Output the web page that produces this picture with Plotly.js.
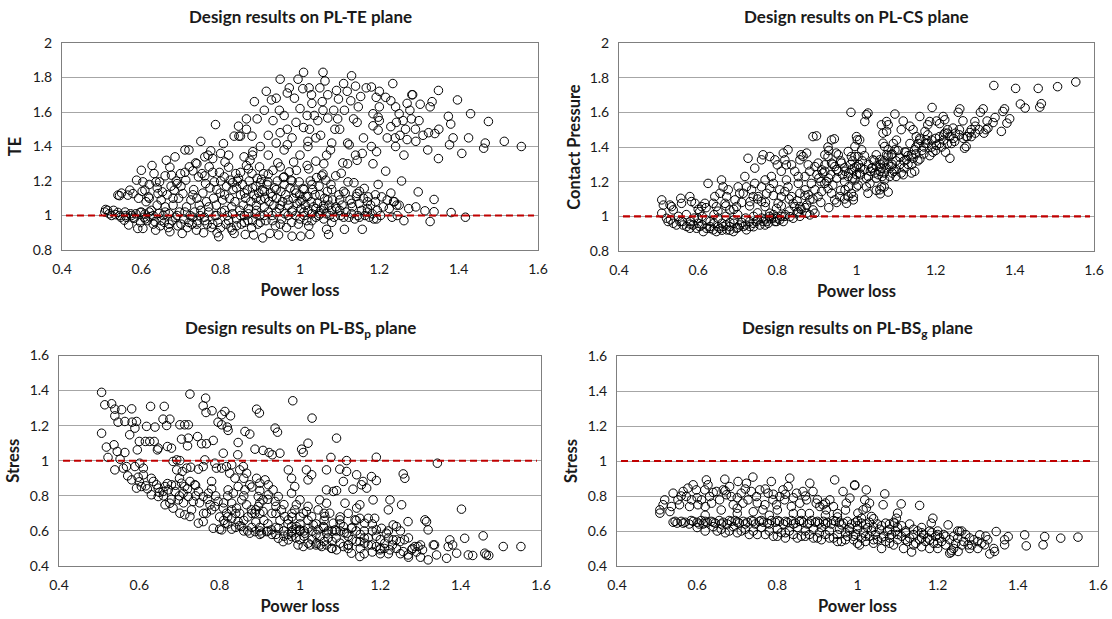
<!DOCTYPE html>
<html><head><meta charset="utf-8">
<script src="https://cdn.plot.ly/plotly-3.0.1.min.js"></script>
<style>html,body{margin:0;padding:0;background:#fff}#chart{width:1112px;height:619px}</style>
</head><body><div id="chart"></div>
<script>
const panelTitles = ["Design results on PL-TE plane", "Design results on PL-CS plane",
  "Design results on PL-BS<sub>p</sub> plane", "Design results on PL-BS<sub>g</sub> plane"];
const yTitles = ["TE", "Contact Pressure", "Stress", "Stress"];
const xTitle = "Power loss";
const xTicks = [0.4, 0.6, 0.8, 1, 1.2, 1.4, 1.6];
const yRangeTop = [0.8, 2];
const yRangeBottom = [0.4, 1.6];
const limitX = [0.41, 1.59];
const limitY = [1, 1];

// PL-TE plane: [power loss, TE]
const tePoints = [
[0.508,1.02],[0.51,1.035],[0.515,1.03],[0.519,1.01],[0.525,1.0],[0.53,1.03],[0.535,1.005],[0.541,1.018],[0.541,1.118],[0.546,1.0],[0.548,0.99],[0.55,1.13],[0.545,1.115],
[0.557,0.973],[0.559,1.02],[0.562,0.99],[0.566,1.118],[0.568,0.945],[0.571,1.147],[0.573,1.01],[0.575,1.0],[0.579,1.127],[0.582,0.983],[0.586,1.01],[0.588,1.205],[0.591,0.925],[0.593,1.1],[0.597,1.018],[0.598,0.96],[0.6,1.262],
[0.602,1.14],[0.604,1.195],[0.604,0.925],[0.607,0.99],[0.609,1.147],[0.609,1.008],[0.612,1.08],[0.615,0.97],[0.618,1.108],[0.62,1.1],[0.622,0.993],[0.625,1.03],[0.627,1.29],[0.63,0.95],[0.632,1.243],[0.634,0.964],[0.636,0.915],[0.637,1.195],[0.64,1.06],[0.642,1.127],[0.645,1.012],[0.646,1.195],[0.648,0.94],[0.65,1.09],
[0.653,1.137],[0.655,1.0],[0.658,0.96],[0.66,1.05],[0.663,1.32],[0.665,1.12],[0.668,0.93],[0.67,1.01],[0.672,1.28],[0.672,0.906],[0.675,1.17],[0.676,1.234],[0.678,0.97],[0.68,1.06],[0.683,1.147],[0.685,1.34],[0.686,0.99],[0.688,1.2],[0.69,1.185],[0.692,0.94],[0.694,1.1],[0.696,1.02],[0.699,1.243],
[0.703,0.896],[0.705,1.127],[0.707,0.98],[0.71,1.38],[0.712,1.205],[0.714,1.05],[0.716,0.93],[0.72,1.38],[0.721,1.282],[0.723,1.0],[0.725,1.09],[0.728,0.95],[0.73,1.259],[0.732,1.15],[0.734,1.02],[0.737,1.305],[0.739,0.915],[0.74,1.1],[0.742,0.97],[0.744,1.224],[0.746,1.06],[0.748,1.0],[0.75,1.43],
[0.753,1.243],[0.755,1.13],[0.757,0.9],[0.759,0.99],[0.76,1.34],[0.762,1.185],[0.764,1.08],[0.766,0.95],[0.768,1.35],[0.77,1.02],[0.771,1.282],[0.773,1.16],[0.775,1.375],[0.777,0.93],[0.78,1.33],[0.782,1.1],[0.784,1.195],[0.786,1.0],[0.787,1.527],[0.789,1.06],[0.791,0.9],[0.793,0.96],[0.795,0.877],[0.797,1.25],[0.799,1.13],
[0.8,1.36],[0.802,1.02],[0.805,1.09],[0.807,1.417],[0.809,1.224],[0.811,1.31],[0.813,0.95],[0.815,1.17],[0.817,1.0],[0.82,1.35],[0.822,1.1],[0.824,1.205],[0.826,0.93],[0.828,1.05],[0.829,0.915],[0.831,1.15],[0.834,0.896],[0.834,1.46],[0.836,1.08],[0.838,1.243],[0.84,0.98],[0.842,1.2],[0.845,1.518],[0.845,1.215],[0.846,1.46],[0.848,1.03],[0.85,1.46],[0.85,1.12],
[0.852,0.95],[0.855,1.18],[0.857,1.06],[0.859,1.34],[0.86,1.0],[0.862,0.89],[0.863,1.1],[0.865,1.56],[0.865,1.5],[0.865,1.29],[0.867,1.15],[0.869,0.97],[0.87,1.04],[0.872,1.2],[0.874,1.32],[0.876,1.08],[0.878,0.93],[0.879,1.243],[0.879,1.46],[0.881,1.37],[0.883,0.887],[0.884,1.12],[0.885,1.66],[0.887,1.01],[0.889,1.17],[0.89,1.06],[0.892,1.56],[0.892,1.215],[0.894,0.95],[0.896,1.13],[0.898,1.282],[0.899,1.0],
[0.901,1.09],[0.903,1.21],[0.905,1.15],[0.906,0.87],[0.908,1.243],[0.91,1.61],[0.91,1.05],[0.912,1.1],[0.914,0.97],[0.915,1.72],[0.917,1.18],[0.919,1.195],[0.92,1.465],[0.92,1.02],[0.922,1.08],[0.924,0.896],[0.926,1.13],[0.928,1.67],[0.93,1.0],[0.932,1.262],[0.932,1.55],[0.934,1.06],[0.936,1.16],[0.938,0.94],[0.94,1.68],[0.941,1.1],[0.943,1.2],[0.944,1.305],[0.946,0.887],[0.948,1.61],[0.948,1.04],[0.95,1.79],[0.95,1.282],
[0.952,1.14],[0.954,0.98],[0.956,1.08],[0.958,1.22],[0.96,1.58],[0.96,1.224],[0.962,1.01],[0.964,1.12],[0.966,0.93],[0.968,1.71],[0.968,1.5],[0.968,1.41],[0.97,1.06],[0.973,1.74],[0.973,1.253],[0.975,1.16],[0.977,1.205],[0.979,0.96],[0.98,0.88],[0.981,1.03],[0.983,1.1],[0.984,1.31],[0.986,1.68],[0.987,1.147],[0.989,1.0],[0.99,1.54],[0.991,1.262],[0.993,1.07],[0.995,1.79],[0.996,0.95],[0.998,1.195],[0.999,1.12],
[1.002,0.88],[1.003,1.04],[1.005,1.09],[1.007,1.735],[1.008,1.157],[1.009,1.83],[1.009,1.51],[1.011,1.0],[1.013,1.06],[1.015,1.11],[1.017,0.97],[1.018,1.58],[1.018,1.29],[1.02,1.43],[1.02,1.03],[1.022,1.27],[1.022,0.94],[1.023,1.74],[1.024,1.5],[1.025,0.89],[1.026,1.2],[1.028,1.08],[1.029,1.7],[1.03,1.01],[1.032,1.15],[1.034,1.05],[1.036,1.58],[1.038,1.12],[1.04,1.315],[1.04,0.99],[1.042,1.22],[1.044,1.07],[1.045,1.55],[1.047,1.0],[1.048,1.17],[1.05,1.74],
[1.052,1.465],[1.053,1.03],[1.055,1.23],[1.056,1.66],[1.058,1.83],[1.058,1.61],[1.058,1.24],[1.06,0.98],[1.062,1.1],[1.063,1.78],[1.065,1.205],[1.066,1.01],[1.067,1.35],[1.067,0.92],[1.069,1.14],[1.07,1.565],[1.072,0.89],[1.073,1.06],[1.075,1.0],[1.077,1.38],[1.078,1.18],[1.08,1.03],[1.082,1.09],[1.085,1.61],[1.086,0.99],[1.088,1.5],[1.09,1.23],[1.092,1.725],[1.093,1.04],[1.095,1.56],[1.097,1.675],[1.098,1.12],
[1.102,1.0],[1.104,1.245],[1.106,1.06],[1.108,1.305],[1.11,1.765],[1.112,1.61],[1.112,0.92],[1.114,1.13],[1.116,1.02],[1.119,1.72],[1.12,1.42],[1.121,1.195],[1.123,0.99],[1.124,1.41],[1.126,1.09],[1.128,1.665],[1.13,1.81],[1.132,1.05],[1.135,1.56],[1.136,1.19],[1.138,0.98],[1.14,1.35],[1.142,1.11],[1.144,1.54],[1.144,1.32],[1.144,1.128],[1.146,1.0],[1.147,1.63],[1.149,1.07],
[1.153,1.69],[1.155,1.03],[1.157,1.36],[1.157,0.92],[1.16,1.1],[1.162,1.157],[1.164,1.0],[1.167,1.74],[1.17,1.04],[1.172,1.108],[1.175,0.99],[1.178,1.06],[1.18,1.745],[1.182,1.01],[1.184,1.59],[1.184,1.52],[1.184,1.3],[1.186,0.98],[1.19,1.08],[1.192,1.685],[1.193,1.37],[1.193,0.98],[1.195,1.03],[1.197,1.57],[1.197,1.495],[1.197,1.18],
[1.2,1.63],[1.203,1.0],[1.206,1.108],[1.21,1.05],[1.216,1.685],[1.216,1.257],[1.22,1.45],[1.225,1.04],[1.229,1.665],[1.229,1.515],[1.229,1.13],[1.232,0.99],[1.234,1.765],[1.236,1.08],[1.238,1.08],[1.241,1.63],[1.241,1.4],[1.243,1.54],[1.244,1.06],[1.245,1.0],[1.25,1.59],
[1.252,1.465],[1.256,1.2],[1.262,1.35],[1.262,0.97],[1.266,1.5],[1.27,1.44],[1.274,1.04],[1.277,1.61],[1.281,1.56],[1.282,1.7],[1.284,1.7],[1.291,1.5],[1.292,1.43],[1.292,1.05],[1.298,1.137],
[1.303,1.645],[1.31,1.465],[1.315,1.027],[1.322,1.38],[1.324,1.48],[1.328,1.63],[1.328,0.965],[1.333,1.66],[1.338,1.093],[1.338,1.022],[1.34,1.475],[1.349,1.725],[1.349,1.33],[1.374,1.575],[1.377,1.41],[1.38,1.53],[1.381,1.017],[1.386,1.45],[1.397,1.67],[1.408,1.36],[1.417,0.99],[1.425,1.45],[1.43,1.59],[1.463,1.39],[1.467,1.42],[1.475,1.545],[1.515,1.43],[1.558,1.4],
[0.56,1.0],[0.58,0.99],[0.6,1.02],[0.61,0.98],[0.62,1.02],[0.63,1.0],[0.65,0.97],[0.66,1.02],[0.67,0.95],[0.69,1.0],[0.7,0.95],[0.71,1.02],[0.72,0.96],[0.73,0.99],[0.74,0.95],[0.75,1.03],[0.76,0.97],[0.78,0.95],[0.79,1.0],[0.8,0.93],[0.81,1.03],[0.82,0.97],[0.83,1.01],[0.84,0.94],[0.85,1.0],[0.86,0.96],[0.87,1.01],[0.88,0.97],[0.89,1.03],[0.9,0.96],[0.91,1.0],[0.93,0.97],[0.94,1.02],[0.95,0.95],[0.97,1.0],[0.98,1.02],[1.0,0.98],[1.01,1.02],[1.03,0.97],[1.05,1.01],[1.06,1.04],[1.08,0.96],[1.1,1.03],[1.11,0.99],[1.13,1.01],[1.15,0.99],[1.17,1.02],
[0.62,1.18],[0.64,1.16],[0.66,1.23],[0.68,1.1],[0.7,1.17],[0.71,1.25],[0.73,1.12],[0.74,1.3],[0.76,1.23],[0.77,1.05],[0.78,1.25],[0.79,1.15],[0.8,1.2],[0.81,1.12],[0.82,1.28],[0.83,1.19],[0.84,1.16],[0.85,1.25],[0.86,1.13],[0.87,1.27],[0.88,1.16],[0.89,1.1],[0.9,1.19],[0.91,1.14],[0.92,1.24],[0.93,1.11],[0.94,1.15],[0.95,1.06],[0.96,1.18],[0.97,1.09],[0.98,1.2],[0.99,1.13],[1.0,1.08],[1.01,1.15],[1.02,1.11],[1.03,1.18],[1.04,1.04],[1.05,1.12],[1.06,1.06],[1.07,1.09],[1.08,1.15],[1.09,1.05],[1.1,1.09],[1.11,1.14],[1.13,1.07],[1.15,1.14],[1.17,1.08],[1.19,1.12],[1.22,1.09],[1.25,1.06],
[0.88,1.35],[0.9,1.4],[0.92,1.35],[0.94,1.42],[0.96,1.38],[0.98,1.45],[1.0,1.35],[1.02,1.4],[1.04,1.45],[1.06,1.3],[1.08,1.42],[1.1,1.5],[1.12,1.3],[1.16,1.45],[1.18,1.4],[1.2,1.55],[1.24,1.45],[1.26,1.55],[1.3,1.55],[1.35,1.5],[0.95,1.48],[1.0,1.62],[1.03,1.65],[1.07,1.7],[1.14,1.75],[1.2,1.72],[1.27,1.65]
];

// PL-CS plane: [power loss, contact pressure]
const csPoints = [
[0.508,1.095],[0.508,1.018],[0.512,1.065],[0.52,0.989],[0.524,0.97],[0.529,1.065],[0.533,1.056],[0.537,1.037],[0.537,0.96],[0.545,0.95],[0.55,1.0],[0.554,0.97],[0.556,1.104],[0.558,1.075],[0.562,0.95],[0.57,1.01],[0.571,0.941],[0.579,0.931],[0.579,1.114],[0.58,0.97],[0.583,1.085],[0.587,0.95],[0.59,0.99],[0.592,1.075],[0.596,0.931],[0.6,0.96],[0.604,0.941],[0.604,1.027],[0.609,1.056],[0.61,1.0],[0.613,0.912],[0.617,1.075],[0.62,0.98],[0.621,0.931],[0.625,1.19],[0.63,0.941],[0.63,0.97],[0.638,0.922],[0.638,1.075],[0.64,1.01],[0.642,1.114],[0.646,0.912],[0.646,1.056],[0.65,0.99],[0.655,0.931],[0.655,1.133],[0.659,1.21],[0.66,0.96],[0.663,0.941],[0.663,1.17],[0.668,1.075],[0.67,1.0],[0.672,0.922],[0.672,1.114],[0.676,1.153],[0.68,0.941],[0.68,0.965],[0.68,1.037],[0.689,0.912],[0.69,0.98],[0.693,1.095],[0.697,0.931],[0.697,1.056],[0.7,1.01],[0.701,1.17],[0.705,0.95],[0.705,1.133],[0.714,0.941],[0.714,1.133],[0.718,1.23],[0.72,0.99],[0.722,0.922],[0.722,1.17],[0.726,1.335],[0.731,0.941],[0.731,1.085],[0.735,1.153],[0.739,0.96],[0.739,1.114],[0.74,1.0],[0.743,1.19],[0.743,1.278],[0.747,0.97],[0.75,1.02],[0.752,1.114],[0.756,0.95],[0.76,0.99],[0.76,1.17],[0.76,1.085],[0.76,1.326],[0.764,0.97],[0.764,1.355],[0.769,1.21],[0.769,1.056],[0.769,0.95],[0.773,0.97],[0.773,1.133],[0.777,0.96],[0.78,1.0],[0.781,1.345],[0.781,1.16],[0.781,1.018],[0.785,1.23],[0.785,0.989],[0.79,1.19],[0.79,1.01],[0.794,1.326],[0.794,0.97],[0.798,0.97],[0.798,1.046],[0.8,1.297],[0.8,0.99],[0.802,1.075],[0.806,1.153],[0.806,0.979],[0.81,1.26],[0.81,1.114],[0.815,0.97],[0.815,1.365],[0.819,1.326],[0.819,1.143],[0.819,1.0],[0.82,1.01],[0.823,1.297],[0.823,1.21],[0.827,1.384],[0.827,1.17],[0.83,1.03],[0.832,0.998],[0.836,1.297],[0.836,1.114],[0.84,0.989],[0.84,1.075],[0.844,1.26],[0.844,1.056],[0.85,1.02],[0.853,1.23],[0.853,1.19],[0.853,1.027],[0.857,1.326],[0.857,1.133],[0.857,1.056],[0.857,1.0],[0.86,1.355],[0.86,1.04],[0.865,1.345],[0.87,1.23],[0.87,1.153],[0.87,1.05],[0.874,1.365],[0.874,1.065],[0.874,1.018],[0.878,1.297],[0.878,1.124],[0.882,1.26],[0.882,1.095],[0.882,1.008],[0.886,1.19],[0.89,1.46],[0.89,1.037],[0.895,1.287],[0.895,1.153],[0.895,1.018],[0.899,1.464],[0.903,1.307],[0.903,1.114],[0.905,1.22],[0.912,1.268],[0.912,1.143],[0.915,1.25],[0.92,1.297],[0.92,1.355],[0.92,1.19],[0.925,1.2],[0.928,1.4],[0.928,1.345],[0.928,1.16],[0.93,1.38],[0.935,1.24],[0.937,1.441],[0.937,1.307],[0.937,1.133],[0.94,1.18],[0.944,1.447],[0.945,1.287],[0.945,1.095],[0.949,1.365],[0.95,1.22],[0.954,1.355],[0.954,1.26],[0.958,1.114],[0.96,1.15],[0.962,1.307],[0.965,1.24],[0.97,1.2],[0.971,1.26],[0.971,1.153],[0.975,1.075],[0.979,1.374],[0.979,1.23],[0.979,1.114],[0.98,1.17],[0.985,1.3],[0.986,1.6],[0.987,1.345],[0.987,1.268],[0.987,1.133],[0.99,1.22],[0.992,1.095],[0.992,1.114],[0.995,1.28],[0.996,1.403],[0.996,1.21],[0.996,1.345],[1.0,1.46],[1.0,1.287],[1.0,1.17],[1.002,1.441],[1.004,1.345],[1.004,1.18],[1.005,1.3],[1.008,1.441],[1.008,1.25],[1.01,1.24],[1.013,1.384],[1.015,1.32],[1.02,1.27],[1.021,1.547],[1.025,1.586],[1.025,1.17],[1.025,1.22],[1.029,1.596],[1.029,1.133],[1.03,1.3],[1.034,1.19],[1.035,1.26],[1.038,1.278],[1.042,1.326],[1.045,1.32],[1.046,1.25],[1.05,1.355],[1.05,1.29],[1.05,1.15],[1.055,1.24],[1.059,1.326],[1.059,1.153],[1.06,1.3],[1.06,1.13],[1.063,1.528],[1.063,1.278],[1.063,1.17],[1.065,1.23],[1.067,1.48],[1.067,1.422],[1.067,1.307],[1.07,1.32],[1.07,1.17],[1.071,1.403],[1.071,1.21],[1.075,1.28],[1.076,1.547],[1.076,1.49],[1.076,1.355],[1.08,1.528],[1.08,1.384],[1.08,1.35],[1.08,1.14],[1.084,1.23],[1.088,1.355],[1.088,1.287],[1.09,1.3],[1.09,1.25],[1.093,1.42],[1.095,1.26],[1.097,1.59],[1.097,1.384],[1.1,1.32],[1.1,1.23],[1.101,1.44],[1.105,1.38],[1.11,1.3],[1.113,1.5],[1.113,1.25],[1.118,1.55],[1.118,1.24],[1.12,1.32],[1.122,1.372],[1.125,1.37],[1.126,1.327],[1.13,1.3],[1.135,1.52],[1.135,1.42],[1.139,1.355],[1.139,1.25],[1.143,1.5],[1.143,1.335],[1.147,1.384],[1.147,1.26],[1.15,1.4],[1.151,1.46],[1.155,1.32],[1.156,1.42],[1.16,1.576],[1.16,1.44],[1.16,1.45],[1.165,1.38],[1.17,1.36],[1.173,1.49],[1.175,1.42],[1.176,1.441],[1.18,1.528],[1.18,1.47],[1.185,1.547],[1.185,1.35],[1.19,1.44],[1.191,1.628],[1.193,1.37],[1.2,1.38],[1.202,1.55],[1.202,1.41],[1.21,1.535],[1.21,1.46],[1.215,1.4],[1.219,1.576],[1.22,1.44],[1.223,1.557],[1.223,1.48],[1.225,1.37],[1.23,1.5],[1.23,1.48],[1.236,1.46],[1.236,1.335],[1.24,1.42],[1.244,1.509],[1.245,1.45],[1.248,1.432],[1.257,1.6],[1.261,1.62],[1.26,1.47],[1.269,1.551],[1.273,1.393],[1.277,1.403],[1.277,1.46],[1.28,1.46],[1.286,1.483],[1.29,1.46],[1.299,1.547],[1.3,1.48],[1.31,1.5],[1.313,1.6],[1.32,1.62],[1.322,1.48],[1.327,1.5],[1.332,1.509],[1.345,1.541],[1.347,1.755],[1.366,1.49],[1.37,1.605],[1.374,1.62],[1.38,1.538],[1.387,1.563],[1.402,1.738],[1.414,1.648],[1.426,1.625],[1.459,1.738],[1.463,1.63],[1.467,1.65],[1.508,1.748],[1.554,1.775],
[0.53,0.98],[0.56,0.97],[0.58,0.955],[0.6,0.99],[0.61,0.95],[0.63,0.93],[0.64,0.96],[0.65,0.94],[0.66,0.92],[0.67,0.95],[0.68,0.92],[0.69,0.96],[0.7,0.935],[0.71,0.965],[0.72,0.95],[0.73,0.97],[0.74,0.94],[0.75,0.98],[0.77,0.985],[0.79,0.99],[0.81,1.0],[0.6,1.04],[0.62,1.05],[0.65,1.03],[0.67,1.06],[0.69,1.04],[0.71,1.08],[0.73,1.06],[0.75,1.1],[0.77,1.08],[0.79,1.12],[0.81,1.06],[0.83,1.1],[0.85,1.09],[0.87,1.12],[0.89,1.1],[0.91,1.08],[0.93,1.05],[0.95,1.08],[0.97,1.1],
[0.9,1.24],[0.91,1.2],[0.92,1.26],[0.93,1.22],[0.94,1.3],[0.95,1.27],[0.96,1.32],[0.97,1.28],[0.98,1.25],[0.99,1.32],[1.0,1.24],[1.01,1.28],[1.02,1.35],[1.03,1.23],[1.04,1.28],[1.05,1.22],[1.06,1.26],[1.07,1.25],[1.08,1.3],[1.09,1.36],[1.1,1.27],[1.11,1.34],[1.12,1.28],[1.13,1.35],[1.14,1.3],[1.15,1.36],[1.16,1.33],[1.17,1.4],[1.18,1.42],[1.19,1.4],[1.2,1.45],[1.21,1.42],[1.22,1.47],[1.23,1.42],[1.25,1.48],[1.26,1.5],[1.27,1.45],[1.29,1.5],[1.3,1.52],[1.33,1.55],[1.35,1.57]
];

// PL-BSp plane: [power loss, pinion bending stress]
const bspPoints = [
[0.506,1.39],[0.514,1.319],[0.531,1.325],[0.539,1.294],[0.556,1.291],[0.581,1.296],[0.539,1.256],[0.547,1.22],[0.564,1.224],[0.582,1.22],[0.593,1.224],[0.589,1.186],[0.628,1.31],[0.662,1.31],[0.659,1.237],[0.668,1.201],[0.676,1.237],[0.618,1.196],[0.639,1.192],[0.726,1.38],[0.765,1.357],[0.759,1.313],[0.766,1.275],[0.781,1.285],[0.805,1.262],[0.813,1.281],[0.827,1.256],[0.796,1.22],[0.805,1.205],[0.821,1.173],[0.819,1.192],[0.701,1.205],[0.713,1.205],[0.722,1.205],[0.506,1.157],[0.576,1.148],[0.6,1.11],[0.615,1.11],[0.626,1.11],[0.637,1.11],[0.647,1.072],[0.645,1.062],[0.67,1.081],[0.68,1.072],[0.705,1.123],[0.722,1.129],[0.72,1.085],[0.745,1.138],[0.755,1.097],[0.767,1.097],[0.784,1.116],[0.809,1.043],[0.846,1.104],[0.845,1.034],[0.863,1.167],[0.875,1.152],[0.892,1.294],[0.899,1.272],[0.888,1.066],[0.908,1.059],[0.923,1.047],[0.931,1.034],[0.95,1.043],[0.938,1.186],[0.944,1.163],[0.982,1.342],[0.518,1.078],[0.537,1.091],[0.545,1.053],[0.564,1.047],[0.522,1.019],[0.552,1.009],[0.595,1.062],[0.539,0.948],[0.56,0.958],[0.568,0.967],[0.571,0.914],[0.581,0.891],[0.597,0.906],[0.61,0.92],[0.593,0.844],[0.605,0.853],[0.616,0.857],[0.635,0.882],[0.643,0.863],[0.647,0.844],[0.589,0.967],[0.601,0.986],[0.61,0.958],[0.63,0.806],[0.647,0.796],[0.659,0.825],[0.684,0.996],[0.693,1.005],[0.701,1.001],[0.693,0.948],[0.707,0.939],[0.718,0.958],[0.728,0.963],[0.747,0.952],[0.759,0.967],[0.763,1.005],[0.664,0.853],[0.672,0.834],[0.68,0.863],[0.689,0.825],[0.664,0.749],[0.676,0.758],[0.684,0.73],[0.697,0.777],[0.705,0.872],[0.713,0.853],[0.726,0.882],[0.738,0.863],[0.709,0.815],[0.722,0.796],[0.734,0.768],[0.701,0.701],[0.713,0.692],[0.726,0.682],[0.747,0.644],[0.759,0.653],[0.767,0.701],[0.747,0.825],[0.759,0.796],[0.772,0.815],[0.78,0.882],[0.776,0.749],[0.788,0.739],[0.796,0.768],[0.809,0.73],[0.817,0.701],[0.784,0.615],[0.805,0.606],[0.813,0.644],[0.788,0.986],[0.792,0.958],[0.805,0.958],[0.817,0.967],[0.83,0.977],[0.825,0.929],[0.838,0.901],[0.85,0.948],[0.859,0.967],[0.867,0.929],[0.821,0.834],[0.834,0.815],[0.846,0.853],[0.863,0.834],[0.875,0.863],[0.83,0.758],[0.842,0.73],[0.855,0.777],[0.867,0.749],[0.83,0.672],[0.846,0.653],[0.855,0.625],[0.875,0.587],[0.888,0.596],[0.879,0.72],[0.888,0.701],[0.896,0.739],[0.908,0.711],[0.892,0.9],[0.9,0.872],[0.913,0.891],[0.921,0.863],[0.933,0.834],[0.896,0.796],[0.908,0.777],[0.921,0.806],[0.938,0.768],[0.946,0.796],[0.904,0.587],[0.917,0.596],[0.929,0.606],[0.946,0.615],[0.954,0.72],[0.962,0.682],[0.971,0.663],[0.979,0.625],[0.946,0.558],[0.958,0.539],[0.971,0.549],[0.979,0.568],[0.971,0.948],[0.979,0.9],[0.987,0.853],[0.979,0.815],
[1.03,1.243],[1.091,1.129],[1.02,1.1],[1.004,1.066],[1.008,1.047],[1.077,1.019],[1.116,1.001],[1.19,1.02],[1.342,0.986],[1.016,0.948],[1.029,0.92],[1.02,0.891],[1.066,0.948],[1.099,0.952],[1.116,0.939],[1.108,0.882],[1.141,0.92],[1.157,0.882],[1.153,0.863],[1.166,0.844],[1.178,0.91],[1.19,0.887],[1.257,0.925],[1.261,0.9],[1.066,0.834],[1.083,0.825],[1.091,0.83],[1.132,0.838],[1.049,0.777],[1.066,0.758],[1.112,0.758],[1.141,0.73],[1.149,0.749],[1.182,0.777],[1.224,0.777],[1.22,0.72],[1.253,0.749],[1.402,0.724],[1.0,0.777],[0.991,0.749],[0.987,0.72],[1.008,0.701],[1.016,0.711],[1.029,0.682],[1.045,0.72],[1.062,0.682],[1.074,0.701],[0.991,0.625],[1.0,0.606],[1.012,0.587],[1.02,0.615],[1.033,0.634],[1.045,0.606],[1.058,0.625],[1.066,0.587],[1.083,0.644],[1.087,0.606],[1.099,0.663],[1.108,0.625],[1.116,0.587],[1.128,0.615],[1.137,0.663],[1.149,0.672],[1.161,0.644],[1.17,0.672],[1.186,0.672],[1.19,0.606],[1.203,0.615],[1.215,0.587],[1.232,0.634],[1.24,0.625],[1.269,0.653],[1.311,0.663],[1.315,0.653],[1.319,0.606],[0.995,0.52],[1.008,0.511],[1.025,0.52],[1.041,0.53],[1.054,0.511],[1.066,0.52],[1.078,0.501],[1.091,0.492],[1.108,0.511],[1.12,0.52],[1.128,0.473],[1.149,0.454],[1.149,0.539],[1.161,0.53],[1.178,0.52],[1.19,0.511],[1.199,0.492],[1.211,0.53],[1.224,0.492],[1.232,0.549],[1.24,0.549],[1.249,0.539],[1.257,0.482],[1.269,0.463],[1.278,0.492],[1.286,0.511],[1.294,0.511],[1.305,0.492],[1.319,0.435],[1.332,0.52],[1.34,0.463],[1.369,0.511],[1.373,0.549],[1.365,0.444],[1.39,0.473],[1.41,0.558],[1.419,0.463],[1.456,0.572],[1.46,0.473],[1.464,0.463],[1.506,0.511],[1.55,0.511],
[0.92,0.6],[0.94,0.58],[0.96,0.6],[0.98,0.59],[1.0,0.6],[0.99,0.61],[1.01,0.57],[1.03,0.55],[1.05,0.57],[1.06,0.54],[1.07,0.6],[1.09,0.56],[1.1,0.6],[1.12,0.57],[1.13,0.55],[1.15,0.58],[1.17,0.56],[1.18,0.48],[1.2,0.55],[1.22,0.56],[1.24,0.5],[1.25,0.6],[1.27,0.45],[0.8,0.61],[0.81,0.66],[0.82,0.68],[0.83,0.61],[0.84,0.7],[0.85,0.63],[0.86,0.66],[0.87,0.6],[0.88,0.7],[0.89,0.65],[0.9,0.62],[0.9,0.7],[0.86,0.9],[0.88,0.85],[0.9,0.83],[0.92,0.78],[0.94,0.7],[0.96,0.75],[0.98,0.7],[1.0,0.68],[1.02,0.66],[1.04,0.64],[1.06,0.7],[1.08,0.6],[1.1,0.64],[1.12,0.7],[1.14,0.6],[1.16,0.56],[1.18,0.6],[1.2,0.5],[1.22,0.47],[1.26,0.55],[1.28,0.5],[1.3,0.52],[1.335,0.52],[1.38,0.52],[1.43,0.46],[1.47,0.46],[1.3,0.45],
[0.6,0.88],[0.62,0.84],[0.63,0.9],[0.65,0.82],[0.66,0.8],[0.67,0.87],[0.68,0.78],[0.69,0.86],[0.7,0.8],[0.71,0.76],[0.72,0.84],[0.73,0.72],[0.74,0.8],[0.75,0.76],[0.76,0.7],[0.77,0.78],[0.78,0.72],[0.79,0.8],[0.8,0.68],[0.81,0.76],[0.82,0.64],[0.83,0.72],[0.84,0.62],[0.85,0.7],[0.86,0.6],[0.87,0.68],[0.88,0.62],[0.89,0.72],[0.9,0.58],[0.91,0.66],[0.92,0.64],[0.93,0.7],[0.94,0.62],[0.95,0.66],[0.96,0.57],[0.97,0.64],[0.98,0.6],[0.99,0.56],[1.0,0.64],[1.01,0.6],[1.02,0.53],[1.03,0.6],[1.04,0.58],[1.05,0.52],[1.06,0.62],[1.07,0.56],[1.08,0.5],[1.09,0.6],[1.1,0.53],[1.11,0.59],[1.12,0.5],[1.13,0.62],[1.14,0.54],[1.15,0.5],[1.16,0.6],[1.17,0.52],[1.19,0.57],[1.21,0.5],[1.23,0.52],[1.25,0.47],[1.27,0.56],[1.29,0.48],[0.7,0.9],[0.74,0.86],[0.78,0.84],[0.82,0.8],[0.86,0.8],[0.9,0.76],[0.94,0.74],[0.98,0.68],[1.02,0.74],[1.06,0.66],[1.1,0.68],[1.14,0.66],[1.18,0.64],[1.22,0.6],[0.9,0.6],[0.93,0.58],[0.97,0.58],[1.0,0.55],[1.04,0.52],[1.08,0.54],[1.12,0.52],[1.16,0.47],[1.2,0.47]
];

// PL-BSg plane: [power loss, gear bending stress]
const bsgPoints = [
[0.507,0.721],[0.507,0.702],[0.515,0.75],[0.519,0.778],[0.532,0.711],[0.536,0.74],[0.54,0.816],[0.552,0.778],[0.556,0.75],[0.565,0.826],[0.573,0.797],[0.577,0.845],[0.581,0.74],[0.586,0.778],[0.59,0.864],[0.598,0.835],[0.602,0.75],[0.611,0.778],[0.619,0.835],[0.623,0.892],[0.627,0.864],[0.631,0.797],[0.636,0.759],[0.648,0.826],[0.656,0.778],[0.665,0.835],[0.669,0.896],[0.673,0.807],[0.681,0.854],[0.685,0.797],[0.69,0.75],[0.702,0.883],[0.71,0.816],[0.714,0.759],[0.723,0.873],[0.727,0.778],[0.735,0.826],[0.739,0.908],[0.748,0.797],[0.756,0.835],[0.764,0.721],[0.769,0.75],[0.777,0.816],[0.785,0.883],[0.789,0.778],[0.798,0.75],[0.806,0.797],[0.814,0.835],[0.818,0.778],[0.827,0.854],[0.831,0.902],[0.835,0.74],[0.848,0.816],[0.856,0.759],[0.864,0.826],[0.873,0.778],[0.881,0.873],[0.889,0.826],[0.897,0.759],[0.906,0.74],[0.914,0.75],[0.922,0.721],[0.931,0.778],[0.943,0.892],[0.964,0.826],[0.972,0.759],[0.981,0.788],[0.993,0.864],
[0.993,0.86],[1.022,0.835],[1.068,0.812],[1.064,0.75],[1.109,0.755],[1.155,0.746],[1.018,0.778],[1.022,0.731],[1.014,0.721],[1.03,0.759],[1.1,0.702],[1.097,0.673],[1.093,0.645],[1.001,0.702],[1.01,0.673],[1.035,0.683],[1.188,0.673],[1.184,0.645],[1.226,0.635],[1.255,0.597],[1.305,0.578],[1.346,0.597],[1.376,0.568],[1.367,0.521],[1.417,0.578],[1.421,0.515],[1.467,0.568],[1.463,0.521],[1.507,0.559],[1.55,0.565],[1.234,0.479],[1.23,0.473],[1.251,0.483],[1.276,0.521],[1.317,0.521],[1.33,0.469],[1.342,0.483],[1.367,0.55],
[0.54,0.65],[0.55,0.645],[0.56,0.655],[0.57,0.65],[0.58,0.64],[0.59,0.655],[0.6,0.65],[0.61,0.66],[0.615,0.64],[0.625,0.65],[0.635,0.655],[0.645,0.645],[0.655,0.66],[0.665,0.65],[0.675,0.64],[0.685,0.655],[0.695,0.66],[0.705,0.645],[0.715,0.655],[0.725,0.65],[0.735,0.66],[0.745,0.64],[0.755,0.655],[0.765,0.65],[0.775,0.645],[0.785,0.66],[0.795,0.65],[0.805,0.655],[0.815,0.64],[0.825,0.65],[0.835,0.66],[0.845,0.645],[0.855,0.655],[0.865,0.65],[0.875,0.64],[0.885,0.66],[0.895,0.65],[0.905,0.645],[0.915,0.655],[0.925,0.65],[0.935,0.64],[0.945,0.655],[0.955,0.65],[0.965,0.645],[0.975,0.655],[0.985,0.64],[0.995,0.65],[1.01,0.645],[1.03,0.65],[1.05,0.64],[1.07,0.645],[1.09,0.65],
[0.6,0.62],[0.62,0.6],[0.64,0.625],[0.66,0.61],[0.68,0.6],[0.69,0.625],[0.7,0.59],[0.72,0.61],[0.73,0.58],[0.74,0.6],[0.76,0.62],[0.77,0.58],[0.78,0.6],[0.79,0.57],[0.8,0.61],[0.81,0.59],[0.82,0.56],[0.83,0.6],[0.84,0.58],[0.85,0.62],[0.86,0.57],[0.87,0.6],[0.88,0.58],[0.89,0.61],[0.9,0.56],[0.905,0.59],[0.91,0.62],[0.92,0.58],[0.93,0.6],[0.94,0.56],[0.95,0.58],[0.955,0.61],[0.96,0.54],[0.97,0.59],[0.975,0.57],[0.98,0.6],[0.99,0.55],[0.995,0.58],[1.0,0.61],[1.005,0.52],[1.01,0.56],[1.015,0.59],[1.02,0.54],[1.025,0.62],[1.03,0.57],[1.035,0.6],[1.04,0.53],[1.045,0.58],[1.05,0.55],[1.055,0.61],[1.06,0.5],[1.065,0.57],[1.07,0.54],[1.075,0.6],[1.08,0.56],[1.085,0.58],[1.09,0.52],[1.095,0.6],[1.1,0.55],[1.11,0.57],[1.115,0.5],[1.12,0.59],[1.125,0.54],[1.13,0.56],[1.135,0.48],[1.14,0.58],[1.145,0.53],[1.15,0.6],[1.155,0.55],[1.16,0.51],[1.165,0.58],[1.17,0.54],[1.175,0.56],[1.18,0.5],[1.185,0.59],[1.19,0.53],[1.195,0.57],[1.2,0.5],[1.205,0.56],[1.21,0.54],[1.215,0.58],[1.22,0.52],[1.23,0.55],[1.235,0.49],[1.24,0.57],[1.245,0.53],[1.25,0.56],[1.26,0.6],[1.265,0.54],[1.27,0.58],[1.28,0.5],[1.285,0.52],[1.29,0.55],[1.3,0.5],[1.31,0.53],[1.32,0.57],[1.325,0.55],
[0.62,0.69],[0.7,0.7],[0.78,0.69],[0.86,0.7],[0.92,0.69],[0.95,0.68],[1.0,0.66],[1.04,0.67],[1.08,0.64],[1.11,0.63],[1.13,0.64],[1.16,0.62],[1.2,0.6],[1.25,0.6],
[0.545,0.655],[0.565,0.645],[0.585,0.66],[0.605,0.64],[0.62,0.655],[0.64,0.65],[0.66,0.64],[0.68,0.66],[0.7,0.65],[0.72,0.64],[0.74,0.655],[0.76,0.66],[0.78,0.64],[0.8,0.66],[0.82,0.655],[0.84,0.64],[0.86,0.66],[0.88,0.645],[0.9,0.655],[0.92,0.64],[0.94,0.66],[0.96,0.635],[0.98,0.62],[1.0,0.63],[1.02,0.64],[1.04,0.62],[1.06,0.63],[1.08,0.61],[1.1,0.62],[1.12,0.6],[1.14,0.61],[1.16,0.59],[1.18,0.6],[1.2,0.58],
[0.65,0.6],[0.67,0.59],[0.71,0.6],[0.75,0.58],[0.8,0.57],[0.82,0.59],[0.85,0.56],[0.87,0.57],[0.89,0.56],[0.91,0.55],[0.93,0.56],[0.95,0.54],[0.97,0.55],[0.99,0.57],[1.0,0.53],[1.02,0.57],[1.04,0.55],[1.06,0.56],[1.08,0.53],[1.1,0.58],[1.12,0.55],[1.14,0.52],[1.16,0.56],[1.18,0.55],[1.2,0.53],[1.22,0.57],[1.24,0.5],[1.26,0.52],[1.28,0.56],[1.3,0.54],[1.34,0.5],
[0.56,0.8],[0.6,0.79],[0.64,0.82],[0.67,0.83],[0.7,0.79],[0.72,0.84],[0.75,0.76],[0.77,0.84],[0.79,0.81],[0.82,0.81],[0.84,0.79],[0.87,0.8],[0.9,0.78],[0.92,0.76],[0.95,0.7],[0.97,0.72],[0.62,0.74],[0.66,0.72],[0.7,0.73],[0.74,0.71],[0.8,0.72],[0.84,0.7],[0.88,0.7],[0.94,0.74]
];

const panels = [
  {pts: tePoints, xd: [62/1112, 538/1112], yd: [1-250/619, 1-43/619], yr: yRangeTop},
  {pts: csPoints, xd: [619/1112, 1094/1112], yd: [1-251/619, 1-43/619], yr: yRangeTop},
  {pts: bspPoints, xd: [59/1112, 541/1112], yd: [1-566/619, 1-355.5/619], yr: yRangeBottom},
  {pts: bsgPoints, xd: [617/1112, 1098/1112], yd: [1-566/619, 1-356/619], yr: yRangeBottom}
];
const titleY = [16, 16, 329, 329];
const yStandoff = [6, 4, 5, 5];

const FONT = "Lato, 'Open Sans', sans-serif";
const data = [];
const layout = {
  width: 1112, height: 619, margin: {l:0, r:0, t:0, b:0},
  paper_bgcolor: '#fff', plot_bgcolor: '#fff', showlegend: false,
  font: {family: FONT, color: '#1a1a1a'},
  annotations: []
};
panels.forEach((p, i) => {
  const n = i === 0 ? '' : String(i + 1);
  data.push({type: 'scatter', mode: 'markers', xaxis: 'x' + n, yaxis: 'y' + n,
    x: p.pts.map(d => d[0]), y: p.pts.map(d => d[1]),
    marker: {symbol: 'circle-open', size: 8.5, color: '#000', line: {width: 1, color: '#000'}},
    hoverinfo: 'x+y'});
  data.push({type: 'scatter', mode: 'lines', xaxis: 'x' + n, yaxis: 'y' + n,
    x: limitX, y: limitY, line: {color: '#c00000', width: 2.2, dash: '7px,4px'}, hoverinfo: 'skip'});
  layout['xaxis' + n] = {domain: p.xd, anchor: 'y' + n, range: [0.4, 1.6], tickvals: xTicks,
    showgrid: false, zeroline: false, showline: true, mirror: true, linecolor: '#7f7f7f', linewidth: 1,
    ticks: '', ticklabelstandoff: 6, tickfont: {family: FONT, size: 14, color: '#1a1a1a'},
    title: {text: xTitle, font: {family: FONT, size: 16.5, color: '#1a1a1a', weight: 'bold'}, standoff: 8}};
  layout['yaxis' + n] = {domain: p.yd, anchor: 'x' + n, range: p.yr, dtick: 0.2, tick0: 0,
    showgrid: true, gridcolor: '#a6a6a6', gridwidth: 1, zeroline: false, showline: true, mirror: true,
    linecolor: '#7f7f7f', linewidth: 1, ticks: '', ticklabelstandoff: 6, tickfont: {family: FONT, size: 14, color: '#1a1a1a'},
    title: {text: yTitles[i], font: {family: FONT, size: 16.5, color: '#1a1a1a', weight: 'bold'}, standoff: yStandoff[i]}};
  layout.annotations.push({text: panelTitles[i], xref: 'paper', yref: 'paper',
    x: (p.xd[0] + p.xd[1]) / 2, y: 1 - titleY[i] / 619, xanchor: 'center', yanchor: 'middle',
    showarrow: false, font: {family: FONT, size: 17, color: '#1a1a1a', weight: 'bold'}});
});
Plotly.newPlot('chart', data, layout, {displayModeBar: false, responsive: false});
</script>
</body></html>
